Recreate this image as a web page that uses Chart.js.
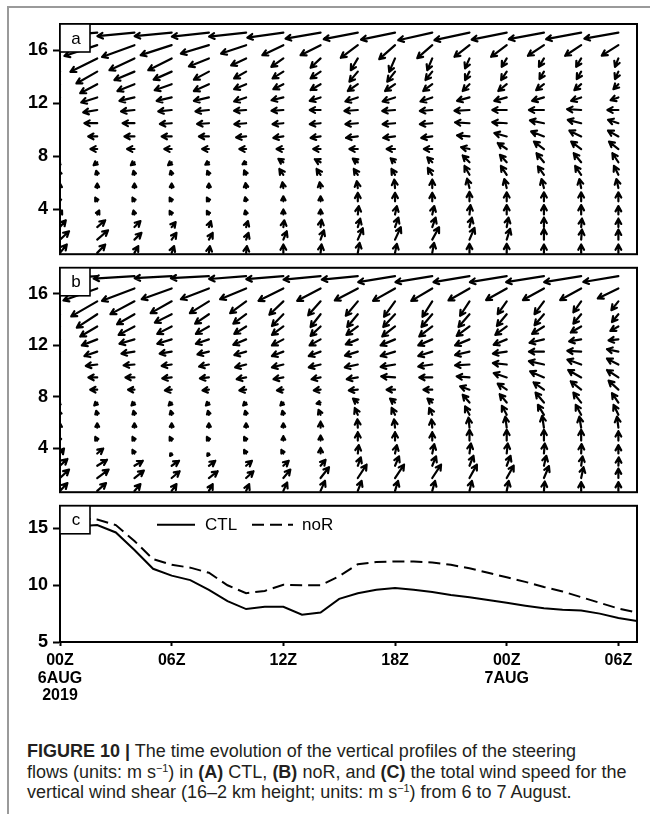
<!DOCTYPE html>
<html>
<head>
<meta charset="utf-8">
<script src="https://cdn.jsdelivr.net/npm/chart.js@4.4.1/dist/chart.umd.min.js"></script>
<style>
  html, body { margin: 0; padding: 0; background: #fff; }
  #fig { position: relative; width: 650px; height: 814px; overflow: hidden; }
  .frame { position: absolute; left: 7px; top: 6px; width: 700px; height: 900px;
           border-top: 2px solid #9a9a9a; border-left: 2px solid #9a9a9a; }
  canvas { position: absolute; left: 0; }
  #caption { position: absolute; left: 27px; top: 741px; white-space: nowrap;
             font-family: 'Liberation Sans', Arial, sans-serif; font-size: 18px;
             line-height: 20.5px; color: #231f20; }
  #caption sup { font-size: 0.6em; line-height: 0; vertical-align: 0.6em; }
</style>
</head>
<body>
<div id="fig">
  <div class="frame"></div>
  <canvas id="pa" width="650" height="270" style="top:0px"></canvas>
  <canvas id="pb" width="650" height="256" style="top:252px"></canvas>
  <canvas id="pc" width="650" height="220" style="top:490px"></canvas>
  <div id="caption"><b>FIGURE 10 |</b> The time evolution of the vertical profiles of the steering<br>flows (units: m s<sup>−1</sup>) in <b>(A)</b> CTL, <b>(B)</b> noR, and <b>(C)</b> the total wind speed for the<br>vertical wind shear (16–2 km height; units: m s<sup>−1</sup>) from 6 to 7 August.</div>
</div>
<script>
// ---- grid of the steering-flow profiles ----
// time in hours after 00Z 6 Aug 2019, one profile every 2 h
const hours = [0, 2, 4, 6, 8, 10, 12, 14, 16, 18, 20, 22, 24, 26, 28, 30];
// height of each level (km), bottom to top
const levels = [0.7, 1.7, 2.65, 3.6, 4.6, 5.6, 6.6, 7.55, 8.55, 9.5, 10.5, 11.5, 12.45, 13.45, 14.4, 15.4, 16.4, 17.35];

// CTL steering flow, u and v (m/s); one row per level (bottom to top), one column per time
const ctlU = [
  [3.4, 4, 1.9, 1.2, 0.5, 0.4, 0, 0.5, 0.9, 0.9, 0.9, 0, 0, 0, 0, 0],
  [4.5, 5.4, 3.5, 2.4, 1.9, 1.2, 1.7, 1.7, 2.5, 2.9, 3.4, 2.5, 1.7, 0, 0.4, 0],
  [2.9, 4, 3, 2, 1, 0.9, 0.5, 0.5, 1.2, 1.7, 1.7, 1.2, 0.9, 0, 0.4, 0],
  [1, 1, -0.5, -1, -1, -0.5, 0, 0, 0.5, 0.9, 1, 0.5, 0, 0, 0, 0],
  [-1, -1, -1, -1, -1, -0.5, 0, 0, 0, 0, 0, 0, 0, 0, 0, 0],
  [0, 0, 0, 0, 0, -0.3, -0.5, -0.5, -0.5, -0.4, 0, -1.2, -1.2, -1.2, -0.9, -1],
  [-0.5, -0.5, -0.5, -0.5, -0.8, -1, -2, -2, -2, -1.8, -2.2, -2.5, -2.9, -3, -3, -2.2],
  [-1.8, -1.8, -1.8, -1.8, -1.8, -1.8, -2.5, -2.9, -2.5, -2.2, -2.5, -3.4, -3.4, -3.7, -3.7, -3],
  [-3.4, -3.4, -3.7, -3.7, -3.4, -3.4, -3.4, -3.7, -4.2, -4.2, -4.2, -4.2, -4.5, -5, -5, -4.7],
  [-4.5, -4.5, -5, -5, -5, -5, -5, -5, -5.9, -5.9, -5.5, -6.2, -6.2, -6.4, -5.9, -5.2],
  [-6.4, -6.4, -5.9, -5.9, -5.9, -5.9, -5.4, -5.4, -6.2, -6.2, -6.2, -7.2, -7.2, -7, -6.7, -5.2],
  [-7, -7, -6.7, -6.7, -6.7, -6, -5.9, -5.4, -6.7, -6.4, -6.2, -7.5, -7.2, -7.5, -7, -5.5],
  [-8, -8, -7.5, -7.5, -7.5, -6, -5.9, -5.4, -6.2, -6.2, -5.9, -6.2, -6.2, -5.9, -5, -3.9],
  [-8.5, -8.5, -8.5, -8.5, -7.5, -6, -5, -5, -5, -5, -4.5, -3.4, -4.2, -3.9, -3.4, -2.5],
  [-10.5, -10.4, -10, -9, -7.5, -6, -5.4, -5, -4.2, -3.9, -3.4, -2.2, -2.8, -2.2, -2.2, -1.7],
  [-13.5, -13.4, -12.5, -11.7, -10, -7.5, -6, -5, -3.5, -2.9, -2.5, -2.2, -2.5, -2.5, -2.5, -1.7],
  [-16.5, -16.4, -16.2, -15.5, -14, -12.5, -10.5, -10, -8.5, -7.9, -7.5, -7.5, -7.8, -8, -8, -8.3],
  [-18.5, -18.5, -18.5, -18.5, -18.5, -18.5, -18, -17.5, -17, -17, -17, -17.5, -17.5, -17.5, -17.5, -17]
];
const ctlV = [
  [4.2, 4.2, 3.4, 3.4, 3.4, 3.4, 4.2, 4.2, 5, 4.5, 5, 4.5, 4.5, 4.2, 4.2, 4.2],
  [4.2, 4.7, 3.4, 3.4, 3.4, 3.4, 4.2, 4.7, 5.7, 6.2, 6.2, 5.9, 5.4, 5.4, 5, 5],
  [3.4, 3.4, 3, 2.5, 3, 3, 3.4, 3.7, 4.2, 4.7, 4.7, 4.7, 4.7, 4.7, 4.2, 4.2],
  [2, 2, 2, 1.8, 1.8, 2, 2.5, 2.5, 4.2, 4.2, 4.2, 4.7, 4.7, 4.7, 4.7, 4.2],
  [1.8, 1.8, 1.8, 1.8, 1.8, 2, 2.5, 2.5, 4.2, 4.2, 4.2, 4.7, 4.5, 4.5, 4.5, 4.5],
  [2.2, 2.2, 2.2, 2.2, 2.2, 2.5, 2.9, 2.9, 3.4, 4.2, 4.2, 4.7, 4.5, 4.5, 4.5, 4.5],
  [2, 2, 2, 2, 2, 2.2, 2.9, 2.9, 2.9, 2.9, 3.4, 4.4, 4.4, 4.2, 4.4, 4.5],
  [-1.5, -1.5, -1.5, -1.5, -1.2, -1, 1.7, 1.5, 1.8, 2, 2.5, 3.4, 3.7, 4.5, 4.5, 4.5],
  [0, 0, 0, 0, 0, 0, 0, 0, 0, 0, 0, 0.9, 3, 3.7, 3.7, 3.7],
  [0, 0, 0, 0, 0, -0.5, -0.7, -0.7, -0.7, -0.7, -0.7, 0.5, 1.7, 2.5, 2.9, 2.9],
  [0, 0, 0, -0.4, -0.4, -0.5, -0.5, -0.5, -0.5, -0.5, -0.5, 0.4, 0.5, 1.4, 1.7, 1.7],
  [-1.2, -1.2, -0.7, -0.7, -0.7, -0.4, -0.4, 0, -0.5, -0.5, -0.5, -0.4, 0, 0, 0.4, 0],
  [-2.5, -2.5, -1.7, -1.7, -1.7, -2, -1.4, -1.7, -2, -2, -2, -1.7, -1.7, -1.7, -1.7, -1.4],
  [-4.5, -4.5, -3.4, -3, -3.4, -2.5, -2.5, -2.9, -3.4, -3.4, -3.4, -3.4, -3.4, -3, -3, -2.5],
  [-6, -5.9, -4.2, -4, -4, -3.4, -3.4, -3.4, -5, -5, -4.2, -4.2, -4.2, -3.7, -3.7, -3.7],
  [-6.5, -6.7, -5.9, -5.9, -4, -3.5, -4.2, -4.7, -5.9, -6.7, -5.9, -5, -4.2, -4.2, -4.2, -4.2],
  [-5.5, -5.4, -5.9, -5, -4.2, -4.2, -5, -5, -6.3, -7, -6.5, -5.8, -5.8, -5.3, -5.3, -5.2],
  [-1.5, -1.5, -1.8, -1.8, -2, -2, -2.5, -3, -3.3, -3.5, -3.8, -3.8, -3.5, -3.3, -3.3, -3]
];

// noR steering flow, u and v (m/s)
const norU = [
  [3.7, 4.4, 3, 2.4, 1.9, 1.5, 1.9, 2.2, 1.9, 1.5, 1.4, 1.2, 1, 0.4, 0, 0],
  [4.5, 5.7, 4.7, 4, 4.4, 3.7, 3.5, 4.2, 4.4, 4.5, 4.4, 3.7, 3.5, 2.5, 1.2, 0],
  [3.7, 4.9, 4.2, 3.7, 3.2, 2.9, 2.7, 2.5, 1.5, 2, 1.9, 2, 1.9, 1.2, 0.7, 0.2],
  [2, 3, -1, -0.8, -0.8, -1, -1, 0, 0.5, 0.9, 1, 0.7, 0.5, 0.4, 0.2, 0],
  [-1, -1, -1, -1, -1, -1, 0, 0, 0, 0, 0, 0, 0, 0, 0, 0],
  [0, 0, 0, 0, 0, 0, 0, 0, -0.2, -0.5, -0.4, -0.5, -0.7, -0.9, -0.9, -0.7],
  [-0.5, -0.5, -0.5, -0.5, -0.5, -0.5, -0.5, -1, -1.5, -1.7, -1.5, -2.2, -2.4, -3, -2.7, -2.4],
  [-1.5, -1.5, -1.5, -1.5, -1.5, -1.5, -1.5, -2, -2.4, -2.5, -2.4, -3.4, -3.5, -4.2, -3.9, -3.2],
  [-3.5, -3.5, -3.2, -3.4, -3.2, -3.4, -3.2, -3.4, -4.5, -4.2, -4.4, -4.7, -4.5, -5.2, -5.2, -4.9],
  [-4.4, -4.4, -4.5, -4.7, -4.5, -4.7, -4.9, -4.5, -5.5, -6.9, -6.5, -6.4, -6.5, -6.9, -6.5, -5.7],
  [-5.7, -5.7, -5.4, -5, -4.9, -5.5, -5.7, -5.9, -6.5, -7.2, -7, -7.2, -6.9, -7.5, -6.9, -5.7],
  [-6.4, -6.4, -6.5, -6, -5.7, -5.9, -5.7, -5.9, -6.4, -7.2, -7, -7.2, -6.9, -7.5, -6.9, -5.7],
  [-7.7, -7.7, -7.5, -7.2, -6.5, -6.4, -5.7, -5.5, -6, -7.2, -7, -7.2, -6.5, -7.2, -6, -4.9],
  [-8.5, -8.5, -7.9, -7.2, -6.5, -5.9, -5.7, -5, -5.7, -6.4, -6.5, -6.4, -5.7, -5.9, -5.2, -4],
  [-10, -10.2, -8.7, -8.4, -6.9, -6.4, -5.7, -5, -5.3, -5.9, -5.4, -5.5, -4.9, -4.7, -3.9, -3.2],
  [-13, -13, -12, -10.5, -9.5, -8, -7, -6.2, -6, -5.5, -4.9, -4.7, -4.5, -4.7, -3.9, -3.5],
  [-17, -16.9, -16.2, -15, -14, -13, -12.4, -11.7, -11.5, -11, -10.5, -10.5, -10.3, -10.5, -10.5, -10.3],
  [-20, -20.4, -20.4, -18.5, -19, -18.5, -18.5, -18.5, -18, -18.4, -18.4, -18, -18.4, -18.9, -18.5, -17.5]
];
const norV = [
  [3.9, 3.9, 3.4, 3.4, 3.4, 3.4, 4.2, 5, 5, 5, 5, 5, 5, 4.7, 4.4, 4.4],
  [4.2, 4.2, 3.7, 3.4, 3.4, 3.4, 4.2, 5.4, 6.7, 6.7, 6.7, 6.7, 6.2, 5.9, 5.4, 4.7],
  [3.4, 3, 2.5, 2.5, 2.5, 2.5, 2.5, 3, 4.2, 4.7, 4.7, 5, 5, 5, 4.7, 4.2],
  [2.5, 2.5, 1.8, -1.2, -1.2, 1.8, 1.8, 2.8, 4.2, 4.2, 4.7, 5, 5, 5, 4.7, 4.2],
  [1.8, 1.8, 1.8, 1.8, 1.8, 1.8, 2.2, 2.5, 4.2, 4.2, 4.2, 5.4, 5.4, 5.4, 5.4, 4.7],
  [2.2, 2.2, 2.2, 2.2, 2.2, 2.2, 2.2, 3, 4.2, 4.2, 4.2, 5, 5.5, 5.9, 5.5, 5.5],
  [2, 2, 2, 2, 2, 2, 2, 2.5, 3.4, 3.4, 3.4, 4.2, 4.5, 5, 5, 5],
  [-1.5, -1.5, -1.5, -1.5, -1.5, -1.5, -1.5, -0.5, 2, 2, 2, 3.9, 4.2, 5, 5, 4.7],
  [0, 0, 0, -0.4, -0.4, -0.4, -0.4, -0.4, -0.4, 0, 0, 1.7, 3, 3.7, 4.2, 4.5],
  [0, 0, 0, -0.5, -0.5, -0.9, -0.9, -0.9, -0.9, 0.5, 0, 0.5, 2.2, 3, 3.7, 3.7],
  [-0.7, -0.7, -0.4, -0.7, -1, -1.4, -1.4, -1.4, -1.4, -1.2, -1, -0.4, 0.7, 1.7, 2.5, 2.9],
  [-2.2, -2.2, -1, -1, -1.4, -1.7, -2.2, -2.2, -2, -2.2, -2.2, -1.7, -1, 0, 0.4, 1.2],
  [-3, -3, -2.2, -2.2, -2.2, -2.7, -3, -3, -2.5, -3, -3, -3, -2.7, -1.7, -1, -0.5],
  [-5, -5, -4.2, -3.7, -3.7, -3.7, -4.2, -4.7, -4.2, -5, -5, -4.7, -4.2, -3.7, -3, -2.2],
  [-6.5, -6.7, -5, -4.2, -4.7, -4.7, -5.9, -6.4, -6.4, -6.4, -6.4, -6.4, -5.9, -5.5, -4.7, -3.9],
  [-7.5, -7.5, -6.4, -5.9, -5.9, -5.9, -6.7, -7, -7.2, -7.7, -7.7, -7.2, -6.4, -6.4, -5.5, -4.4],
  [-6, -6, -6.2, -5.4, -5.4, -5.4, -6.2, -6.2, -6, -6.2, -6.2, -6, -5.8, -5.8, -5.8, -5],
  [-1, -1.2, -1.2, -1, -1, -1.4, -1.5, -1.7, -1.7, -3, -3, -3, -3, -3, -3, -2.9]
];

// ---- 16-2 km vertical wind shear (m/s), hourly ----
const shearHours = [1, 2, 3, 4, 5, 6, 7, 8, 9, 10, 11, 12, 13, 14, 15, 16, 17, 18, 19, 20, 21, 22, 23, 24, 25, 26, 27, 28, 29, 30, 31];
const ctlShear = [15.2, 15.3, 14.65, 13.1, 11.45, 10.85, 10.45, 9.6, 8.6, 7.9, 8.1, 8.1, 7.4, 7.6, 8.8, 9.3, 9.6, 9.75, 9.6, 9.4, 9.15, 8.95, 8.7, 8.45, 8.2, 7.97, 7.85, 7.77, 7.5, 7.12, 6.84];
const norShear = [15.9, 15.8, 15.3, 13.9, 12.3, 11.8, 11.55, 11.1, 10.0, 9.3, 9.5, 10.05, 10.0, 10.0, 10.8, 11.85, 12.05, 12.1, 12.1, 12.0, 11.8, 11.5, 11.1, 10.7, 10.3, 9.85, 9.45, 8.95, 8.45, 7.95, 7.6];

// ---- axis ticks ----
const heightTicks = [4, 8, 12, 16];
const shearTicks = [5, 10, 15];
const timeTicks = [0, 6, 12, 18, 24, 30];
const timeLabels = [['00Z', '6AUG', '2019'], '06Z', '12Z', '18Z', ['00Z', '7AUG'], '06Z'];

Chart.defaults.font.family = "'Liberation Sans', Arial, sans-serif";
Chart.defaults.color = '#000';

const PX_PER_MS = 2;   // vector length scale

// arrows start at their grid point and point downwind
const vectorPlugin = {
  id: 'vectors',
  afterDatasetsDraw(chart) {
    const { ctx, chartArea: a } = chart;
    chart.data.datasets.forEach((ds, di) => {
      if (!ds.vectors) return;
      const meta = chart.getDatasetMeta(di);
      ctx.save();
      ctx.beginPath();
      ctx.rect(a.left, a.top, a.right - a.left, a.bottom - a.top);
      ctx.clip();
      ctx.strokeStyle = '#000';
      ctx.lineWidth = 2.2;
      ctx.lineCap = 'round';
      ctx.lineJoin = 'round';
      meta.data.forEach((el, i) => {
        const d = ds.data[i];
        const dx = d.u * PX_PER_MS, dy = -d.v * PX_PER_MS;
        const len = Math.hypot(dx, dy);
        if (len < 0.5) return;
        const x0 = el.x, y0 = el.y, x1 = x0 + dx, y1 = y0 + dy;
        const ang = Math.atan2(dy, dx);
        const hl = Math.min(6, len * 0.9);
        ctx.beginPath();
        ctx.moveTo(x0, y0);
        ctx.lineTo(x1, y1);
        ctx.moveTo(x1 - hl * Math.cos(ang - 0.5), y1 - hl * Math.sin(ang - 0.5));
        ctx.lineTo(x1, y1);
        ctx.lineTo(x1 - hl * Math.cos(ang + 0.5), y1 - hl * Math.sin(ang + 0.5));
        ctx.stroke();
      });
      ctx.restore();
    });
  }
};

// panel frame and the boxed panel letter
const panelPlugin = {
  id: 'panel',
  afterDraw(chart, args, opts) {
    const { ctx, chartArea: a } = chart;
    ctx.save();
    ctx.strokeStyle = '#000';
    ctx.lineWidth = 2;
    ctx.strokeRect(a.left, a.top, a.right - a.left, a.bottom - a.top);
    if (opts.tag) {
      ctx.fillStyle = '#fff';
      ctx.fillRect(a.left, a.top, 30, 28);
      ctx.lineWidth = 1.6;
      ctx.strokeRect(a.left, a.top, 30, 28);
      ctx.fillStyle = '#000';
      ctx.font = "17px 'Liberation Sans', Arial, sans-serif";
      ctx.textAlign = 'center';
      ctx.textBaseline = 'middle';
      ctx.fillText(opts.tag, a.left + 16, a.top + 15);
    }
    ctx.restore();
  }
};

// line legend inside the shear panel
const keyPlugin = {
  id: 'key',
  afterDraw(chart, args, opts) {
    if (!opts.items) return;
    const { ctx, chartArea: a } = chart;
    ctx.save();
    ctx.font = "17px 'Liberation Sans', Arial, sans-serif";
    ctx.textBaseline = 'middle';
    ctx.fillStyle = '#000';
    opts.items.forEach((it, i) => {
      const ds = chart.data.datasets[i];
      const y = a.top + 19;
      ctx.strokeStyle = '#000';
      ctx.lineWidth = ds.borderWidth;
      ctx.setLineDash(ds.borderDash || []);
      ctx.beginPath();
      ctx.moveTo(a.left + it.x0, y);
      ctx.lineTo(a.left + it.x1, y);
      ctx.stroke();
      ctx.setLineDash([]);
      ctx.fillText(ds.label, a.left + it.tx, y + 1);
    });
    ctx.restore();
  }
};

function vectorPoints(U, V) {
  const pts = [];
  levels.forEach((z, i) => {
    hours.forEach((h, j) => {
      pts.push({ x: h, y: z, u: U[i][j], v: V[i][j] });
    });
  });
  return pts;
}

function leftAxis(min, max, ticks) {
  return {
    type: 'linear', position: 'left', min: min, max: max,
    afterBuildTicks: s => { s.ticks = ticks.map(v => ({ value: v })); },
    afterFit: s => { s.width = 60; },
    ticks: { font: { size: 18, weight: 'bold' }, padding: 5, color: '#000' },
    grid: { display: true, drawOnChartArea: false, drawTicks: true, tickLength: 7, tickWidth: 2, tickColor: '#000' },
    border: { display: true, color: '#000', width: 2 }
  };
}

function profilePanel(id, tag, U, V, pad) {
  return new Chart(document.getElementById(id), {
    type: 'scatter',
    data: { datasets: [{ data: vectorPoints(U, V), vectors: true, pointRadius: 0, pointHoverRadius: 0 }] },
    options: {
      responsive: false, animation: false, events: [], devicePixelRatio: 1,
      layout: { padding: pad },
      scales: {
        x: { type: 'linear', min: 0, max: 31, display: false },
        y: leftAxis(0.6, 18, heightTicks)
      },
      plugins: { legend: { display: false }, tooltip: { enabled: false }, panel: { tag: tag } }
    },
    plugins: [vectorPlugin, panelPlugin]
  });
}

profilePanel('pa', 'a', ctlU, ctlV, { top: 24, right: 13, bottom: 9, left: 0 });
profilePanel('pb', 'b', norU, norV, { top: 9, right: 13, bottom: 9, left: 0 });

new Chart(document.getElementById('pc'), {
  type: 'scatter',
  data: {
    datasets: [
      { label: 'CTL', data: shearHours.map((h, i) => ({ x: h, y: ctlShear[i] })), showLine: true,
        borderColor: '#000', borderWidth: 2, pointRadius: 0, tension: 0, borderDash: [] },
      { label: 'noR', data: shearHours.map((h, i) => ({ x: h, y: norShear[i] })), showLine: true,
        borderColor: '#000', borderWidth: 2, pointRadius: 0, tension: 0, borderDash: [12, 6] }
    ]
  },
  options: {
    responsive: false, animation: false, events: [], devicePixelRatio: 1,
    layout: { padding: { top: 10, right: 13, bottom: 0, left: 0 } },
    scales: {
      x: {
        type: 'linear', min: 0, max: 31,
        afterBuildTicks: s => { s.ticks = timeTicks.map(v => ({ value: v })); },
        afterFit: s => { s.height = 68; },
        ticks: {
          font: { size: 16, weight: 'bold', lineHeight: 1.1 }, padding: 6, color: '#000',
          maxRotation: 0, autoSkip: false,
          callback: v => timeLabels[timeTicks.indexOf(v)]
        },
        grid: { display: true, drawOnChartArea: false, drawTicks: true, tickLength: 4, tickWidth: 2, tickColor: '#000' },
        border: { display: true, color: '#000', width: 2 }
      },
      y: leftAxis(5, 17, shearTicks)
    },
    plugins: {
      legend: { display: false }, tooltip: { enabled: false },
      panel: { tag: 'c' },
      key: { items: [ { x0: 97, x1: 135, tx: 145 }, { x0: 192, x1: 233, tx: 242 } ] }
    }
  },
  plugins: [panelPlugin, keyPlugin]
});
</script>
</body>
</html>
